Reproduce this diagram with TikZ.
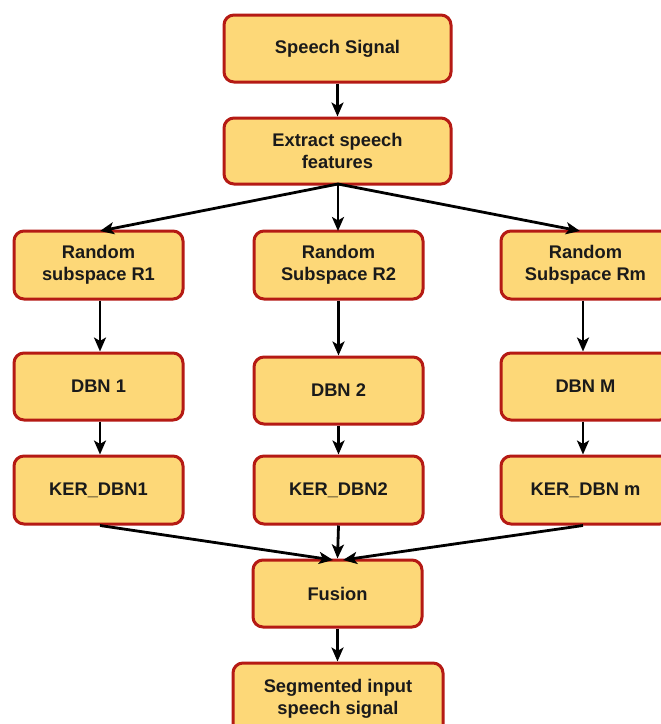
\documentclass[tikz,border=0pt]{standalone}
\usepackage{fontspec}
\setmainfont{Liberation Sans}
\usetikzlibrary{arrows.meta}
\definecolor{boxfill}{HTML}{FDD878}
\definecolor{boxline}{HTML}{B51A14}
\definecolor{txt}{HTML}{1A1A1A}
\begin{document}
\begin{tikzpicture}[x=1pt,y=-1pt,
  box/.style={draw=boxline,fill=boxfill,line width=3pt,rounded corners=10pt,
    text=txt,font=\fontsize{18.3}{22}\selectfont\bfseries,align=center,inner sep=0pt},
  lbl/.style={text=txt,font=\fontsize{18.3}{22}\selectfont\bfseries,align=center,inner sep=0pt},
  conn/.style={line width=2.8pt,-{Stealth[length=14pt,width=12pt,inset=3.5pt]}}]
\useasboundingbox (0,0) rectangle (661,724);
\fill[white] (0,0) rectangle (661,724);
\newcommand{\mybox}[6]{\node[box,minimum width=#4-#2,minimum height=#5-#3] (#1) at ({(#2+#4)/2},{(#3+#5)/2}) {#6};}
\mybox{sig}{224}{15}{451}{82}{Speech Signal}
\mybox{ext}{224}{118}{451}{184}{Extract speech\\features}
\mybox{r1}{14}{231}{183}{299}{Random\\subspace R1}
\mybox{r2}{254}{231}{423}{299}{Random\\Subspace R2}
\mybox{rm}{501}{231}{670}{299}{Random\\Subspace Rm}
\mybox{d1}{14}{353}{183}{420}{DBN 1}
\mybox{d2}{254}{357}{423}{424}{DBN 2}
\mybox{dm}{501}{353}{670}{420}{DBN M}
\mybox{k1}{14}{456}{183}{524}{KER\_DBN1}
\mybox{k2}{254}{456}{423}{524}{KER\_DBN2}
\mybox{km}{501}{456}{670}{524}{KER\_DBN m}
\mybox{fus}{253}{560}{422}{627}{Fusion}
\mybox{seg}{233}{663}{443}{740}{}
\node[lbl] (segt) at (338,699) {Segmented input\\speech signal};
\coordinate (extb) at (338,184);
\draw[conn] (sig.south) -- (ext.north);
\draw[conn] (extb) -- (100,231);
\draw[conn] (extb) -- (338,231);
\draw[conn] (extb) -- (580,231);
\draw[conn] (r1.south -| 100,0) -- (d1.north -| 100,0);
\draw[conn] (r2.south) -- (d2.north);
\draw[conn] (rm.south -| 583,0) -- (dm.north -| 583,0);
\draw[conn] (d1.south -| 100,0) -- (k1.north -| 100,0);
\draw[conn] (d2.south) -- (k2.north);
\draw[conn] (dm.south -| 583,0) -- (km.north -| 583,0);
\draw[conn] (k1.south -| 100,0) -- (333,560);
\draw[conn] (k2.south) -- (fus.north);
\draw[conn] (km.south -| 583,0) -- (343,560);
\draw[conn] (fus.south) -- (seg.north -| fus.south);
\end{tikzpicture}
\end{document}
